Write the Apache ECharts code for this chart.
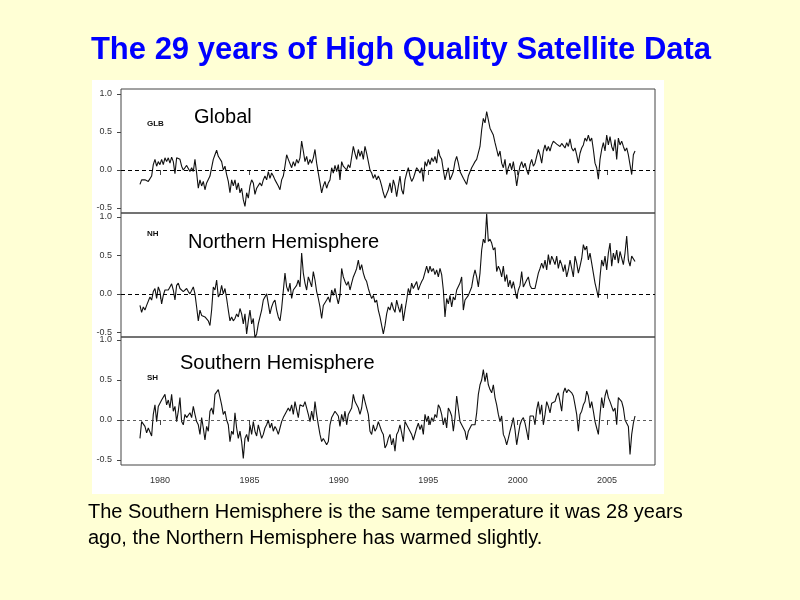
<!DOCTYPE html>
<html>
<head>
<meta charset="utf-8">
<script src="https://cdn.jsdelivr.net/npm/echarts@6/dist/echarts.min.js"></script>
<style>
html,body{margin:0;padding:0;background:#FFFFD5;}
#c{width:800px;height:600px;}
</style>
</head>
<body>
<div id="c"></div>
<script>
// Sampling: first point Dec 1978, then every ~1.1 months
const START_YEAR = 1978.88;
const STEP_YEARS = 0.09321;

const yearTicks = [1980, 1985, 1990, 1995, 2000, 2005];
const valueTicks = [-0.5, 0.0, 0.5, 1.0];

const glbValues = [
-0.19,-0.13,-0.13,-0.13,-0.15,-0.15,-0.15,-0.08,0.07,0.14,
0.05,0.11,0.07,0.14,0.07,0.16,0.11,0.16,0.09,0.17,
0.11,-0.05,0.16,0.17,0.14,0.05,0.00,0.03,0.06,0.04,
-0.02,0.03,-0.02,0.14,-0.04,-0.24,-0.13,-0.21,-0.15,-0.26,
-0.17,-0.19,-0.08,0.03,0.14,0.20,0.26,0.18,0.20,0.11,
0.00,0.05,-0.06,-0.15,-0.30,-0.13,-0.21,-0.13,-0.26,-0.17,
-0.30,-0.24,-0.39,-0.48,-0.30,-0.37,-0.21,-0.13,-0.17,-0.32,
-0.24,-0.26,-0.17,-0.21,-0.13,-0.08,-0.13,-0.02,-0.11,-0.04,
-0.08,-0.13,-0.15,-0.21,-0.26,-0.13,-0.08,0.05,0.20,0.14,
0.14,0.03,0.11,0.05,0.14,0.09,0.16,0.38,0.25,0.11,
0.18,0.07,0.14,0.09,0.16,0.27,0.09,-0.04,-0.17,-0.30,
-0.21,-0.15,-0.24,-0.17,-0.13,0.03,-0.04,0.06,-0.02,0.07,
-0.13,0.11,0.05,0.03,0.00,0.07,0.03,0.01,0.31,0.22,
0.14,0.27,0.18,0.25,0.14,0.31,0.22,0.11,0.00,-0.04,
-0.11,-0.06,-0.13,-0.08,-0.13,-0.21,-0.30,-0.37,-0.39,-0.26,
-0.17,-0.30,-0.13,-0.21,-0.35,-0.21,-0.08,-0.26,-0.32,-0.13,
-0.04,0.03,-0.08,-0.15,-0.11,-0.04,0.03,0.00,-0.04,0.03,
-0.15,0.11,0.05,0.14,0.07,0.16,0.11,0.18,0.09,0.27,
0.18,0.14,0.00,-0.13,-0.04,0.03,-0.13,-0.08,-0.02,0.11,
0.18,0.09,-0.02,0.00,-0.11,-0.13,-0.19,-0.08,
-0.08,0.03,0.07,0.11,0.14,0.16,0.31,0.53,0.68,0.62,
0.77,0.66,0.55,0.53,0.46,0.36,0.27,0.18,0.25,0.09,
0.03,0.14,-0.06,0.03,0.09,0.00,0.11,-0.04,-0.21,-0.06,
0.05,0.11,0.03,0.09,0.00,-0.06,0.07,0.14,0.05,0.09,
0.11,0.27,0.20,0.09,0.25,0.33,0.25,0.31,0.25,0.33,
0.38,0.36,0.34,0.33,0.31,0.35,0.32,0.29,0.36,0.31,
0.41,0.29,0.25,0.29,0.20,0.09,0.22,0.29,0.33,0.42,
0.38,0.46,0.38,0.42,0.27,0.09,0.03,-0.12,0.14,0.27,
0.36,0.25,0.46,0.33,0.44,0.31,0.25,0.40,0.14,0.42,
0.33,0.38,0.31,0.25,0.29,0.20,0.18,-0.06,0.20,0.25
];

const nhValues = [
-0.15,-0.24,-0.17,-0.21,-0.15,-0.17,-0.04,-0.08,0.03,0.07,
-0.06,0.09,0.03,-0.13,-0.02,0.05,0.03,0.05,0.09,0.13,
0.05,-0.08,0.11,0.14,0.07,0.09,0.03,0.05,0.07,0.03,
0.00,-0.02,0.09,0.00,-0.17,-0.35,-0.21,-0.28,-0.26,-0.30,
-0.30,-0.35,-0.41,-0.21,0.09,0.05,0.18,-0.04,0.00,0.11,
0.00,0.07,-0.06,-0.21,-0.35,-0.30,-0.35,-0.32,-0.26,-0.30,
-0.19,-0.26,-0.39,-0.26,-0.52,-0.35,-0.21,-0.39,-0.32,-0.57,
-0.52,-0.39,-0.30,-0.21,-0.08,-0.06,0.00,-0.13,-0.26,-0.17,
-0.11,-0.08,-0.21,-0.30,-0.35,-0.19,-0.17,0.27,0.09,0.03,
0.14,-0.06,0.05,0.03,0.11,0.18,0.09,0.53,0.27,0.14,
0.05,0.22,0.16,0.09,0.29,0.18,0.03,-0.06,-0.17,-0.32,
-0.15,-0.13,-0.08,-0.04,-0.11,0.05,-0.02,0.07,-0.04,-0.13,
-0.02,0.33,0.22,0.16,0.11,0.16,0.05,0.14,0.22,0.27,
0.33,0.44,0.31,0.38,0.27,0.20,0.16,0.07,0.00,-0.06,
-0.02,-0.11,-0.08,-0.21,-0.30,-0.41,-0.52,-0.41,-0.26,-0.17,
-0.21,-0.11,-0.19,-0.24,-0.08,-0.17,-0.24,-0.13,-0.35,-0.21,
-0.08,0.07,0.00,0.14,0.07,0.09,0.16,0.05,0.11,0.16,
0.20,0.22,0.36,0.27,0.36,0.29,0.33,0.25,0.31,0.22,
0.33,0.25,0.05,-0.30,-0.06,-0.13,-0.02,-0.17,-0.04,-0.08,
0.05,0.03,0.14,0.22,-0.21,-0.08,-0.06,-0.02,
0.00,0.09,0.22,0.31,0.22,0.09,0.27,0.57,0.71,0.66,
1.04,0.68,0.71,0.66,0.57,0.60,0.29,0.36,0.31,0.22,
0.36,0.16,0.25,0.09,0.18,0.07,0.16,0.05,-0.06,0.05,
0.11,0.29,0.09,0.07,0.18,0.22,0.11,0.07,0.09,0.07,
0.09,0.27,0.33,0.40,0.33,0.44,0.31,0.51,0.38,0.49,
0.44,0.38,0.49,0.33,0.44,0.38,0.29,0.38,0.22,0.31,
0.44,0.33,0.22,0.49,0.40,0.27,0.36,0.46,0.64,0.57,
0.62,0.44,0.53,0.40,0.27,0.14,0.05,-0.05,0.22,0.44,
0.36,0.49,0.31,0.53,0.66,0.36,0.53,0.44,0.57,0.40,
0.55,0.53,0.38,0.53,0.75,0.44,0.36,0.49,0.51,0.42
];

const shValues = [
-0.23,-0.02,-0.04,-0.08,-0.16,-0.10,-0.08,-0.20,0.07,0.19,
-0.02,0.17,0.21,0.25,0.23,0.32,0.19,0.25,0.15,0.32,
0.11,0.17,-0.02,0.11,0.28,-0.02,-0.06,0.07,0.03,0.05,
0.09,0.03,0.17,0.07,-0.02,-0.06,-0.18,0.03,-0.10,-0.25,
-0.08,-0.14,0.11,0.15,0.07,0.32,0.34,0.38,0.40,0.19,
0.07,0.11,0.00,-0.06,-0.27,-0.14,-0.18,0.09,-0.10,-0.23,
-0.14,-0.27,-0.48,-0.23,-0.18,-0.27,-0.06,-0.18,-0.02,-0.14,
-0.20,-0.06,-0.04,-0.23,-0.18,-0.10,-0.06,0.00,-0.10,-0.04,
-0.14,-0.08,-0.12,-0.18,-0.10,-0.02,0.03,0.03,0.11,0.15,
0.11,0.19,0.07,0.23,0.13,0.03,0.19,0.21,0.17,0.23,
0.25,0.07,-0.02,0.11,0.00,0.23,0.07,-0.06,-0.18,-0.27,
-0.23,-0.25,-0.31,-0.27,-0.06,0.03,0.07,0.11,0.13,0.05,
-0.08,0.07,-0.02,0.11,-0.06,0.07,0.09,0.15,0.32,0.23,
0.19,0.15,0.07,0.15,0.32,0.23,0.23,0.07,-0.14,-0.18,
-0.06,-0.14,-0.10,-0.02,0.00,-0.14,-0.18,-0.35,-0.31,-0.23,
-0.18,-0.31,-0.23,-0.39,-0.18,-0.14,-0.06,-0.16,-0.27,-0.02,
0.00,-0.10,-0.14,-0.18,-0.25,-0.27,-0.10,-0.04,-0.12,-0.06,
-0.18,0.07,-0.02,0.05,-0.06,0.03,-0.02,0.07,0.03,0.19,
0.15,0.07,-0.06,0.03,-0.10,0.15,0.11,0.05,-0.14,0.03,
0.30,0.32,-0.02,-0.06,-0.08,-0.14,-0.25,-0.14,
-0.12,-0.06,-0.04,-0.06,0.09,0.32,0.44,0.50,0.63,0.48,
0.59,0.44,0.38,0.34,0.44,0.28,0.19,0.07,-0.02,0.05,
-0.18,-0.23,-0.31,-0.23,-0.14,-0.06,0.03,-0.12,-0.31,-0.18,
-0.06,0.00,0.03,-0.04,-0.14,-0.25,0.05,0.07,0.05,-0.06,
0.13,0.23,0.07,0.19,-0.06,0.07,0.23,0.17,0.09,0.21,
0.19,0.23,0.30,0.34,0.23,0.11,0.34,0.40,0.34,0.38,
0.36,0.34,0.30,0.19,0.07,-0.14,0.07,0.11,0.19,0.23,
0.36,0.30,0.15,0.23,0.11,-0.02,-0.10,-0.18,0.07,0.28,
0.15,0.30,0.38,0.28,0.23,0.25,0.11,0.15,-0.06,0.28,
0.30,0.23,0.15,0.00,-0.04,-0.08,-0.43,-0.18,-0.04,0.05
];

const panelTags = ['GLB', 'NH', 'SH'];
const panelNames = ['Global', 'Northern Hemisphere', 'Southern Hemisphere'];
const titleText = 'The 29 years of High Quality Satellite Data';
const captionLines = [
  'The Southern Hemisphere is the same temperature it was 28 years',
  'ago, the Northern Hemisphere has warmed slightly.'
];

function toPairs(vals) {
  return vals.map((v, i) => [START_YEAR + i * STEP_YEARS, v]);
}

const FONT = '"Liberation Sans", Arial, Helvetica, sans-serif';
const chart = echarts.init(document.getElementById('c'), null, {renderer: 'canvas'});

const grids = [
  {left: 121, top: 89, width: 534, height: 124},
  {left: 121, top: 213, width: 534, height: 124},
  {left: 121, top: 337, width: 534, height: 128}
].map(g => Object.assign(g, {show: true, borderColor: '#444', borderWidth: 1, backgroundColor: 'transparent', containLabel: false}));

const yRanges = [[-0.566, 1.066], [-0.56, 1.05], [-0.5625, 1.0375]];

const xAxes = [0, 1, 2].map(i => ({
  type: 'value', gridIndex: i, min: 1977.82, max: 2007.68,
  axisLine: {show: false},
  splitLine: {show: false},
  axisTick: {show: true, inside: false, length: 5, customValues: yearTicks, lineStyle: {color: '#444', width: 1}},
  axisLabel: {show: i === 2, customValues: yearTicks, margin: 11, color: '#333', fontSize: 9, fontFamily: FONT,
    formatter: v => String(Math.round(v))}
}));

const yAxes = [0, 1, 2].map(i => ({
  type: 'value', gridIndex: i, min: yRanges[i][0], max: yRanges[i][1],
  axisLine: {show: false},
  splitLine: {show: false},
  axisTick: {show: true, length: 4, customValues: valueTicks, lineStyle: {color: '#444', width: 1}},
  axisLabel: {show: true, customValues: valueTicks, margin: 9, color: '#333', fontSize: 9, fontFamily: FONT,
    formatter: v => v.toFixed(1)}
}));

const seriesVals = [glbValues, nhValues, shValues];
const series = seriesVals.map((vals, i) => ({
  type: 'line', xAxisIndex: i, yAxisIndex: i,
  data: toPairs(vals),
  showSymbol: false, symbol: 'none', smooth: false,
  lineStyle: {color: '#111', width: 1.1},
  animation: false,
  markLine: {
    silent: true, symbol: 'none', animation: false,
    label: {show: false},
    lineStyle: i < 2 ? {color: '#000', width: 1.2, type: [4, 3]} : {color: '#333', width: 0.8, type: [3, 3]},
    data: [{yAxis: 0}]
  }
}));

const tagPos = [[147, 124], [147, 234], [147, 378]];
const namePos = [[194, 117], [188, 242], [180, 363]];

const graphic = [
  {type: 'rect', shape: {x: 92, y: 80, width: 572, height: 414}, style: {fill: '#ffffff'}, z: -10, silent: true},
  {type: 'text', x: 401, y: 50, style: {text: titleText, fill: '#0000ff', font: 'bold 31px ' + FONT, textAlign: 'center', textVerticalAlign: 'middle'}},
  {type: 'text', x: 88, y: 512, style: {text: captionLines[0], fill: '#000', font: '20px ' + FONT, textAlign: 'left', textVerticalAlign: 'middle'}},
  {type: 'text', x: 88, y: 538, style: {text: captionLines[1], fill: '#000', font: '20px ' + FONT, textAlign: 'left', textVerticalAlign: 'middle'}}
];
panelTags.forEach((t, i) => {
  graphic.push({type: 'text', x: tagPos[i][0], y: tagPos[i][1], style: {text: t, fill: '#111', font: 'bold 8px ' + FONT, textAlign: 'left', textVerticalAlign: 'middle'}});
});
panelNames.forEach((t, i) => {
  graphic.push({type: 'text', x: namePos[i][0], y: namePos[i][1], style: {text: t, fill: '#000', font: '20px ' + FONT, textAlign: 'left', textVerticalAlign: 'middle'}});
});

chart.setOption({
  backgroundColor: '#FFFFD5',
  animation: false,
  grid: grids,
  xAxis: xAxes,
  yAxis: yAxes,
  series: series,
  graphic: graphic
});
</script>
</body>
</html>
